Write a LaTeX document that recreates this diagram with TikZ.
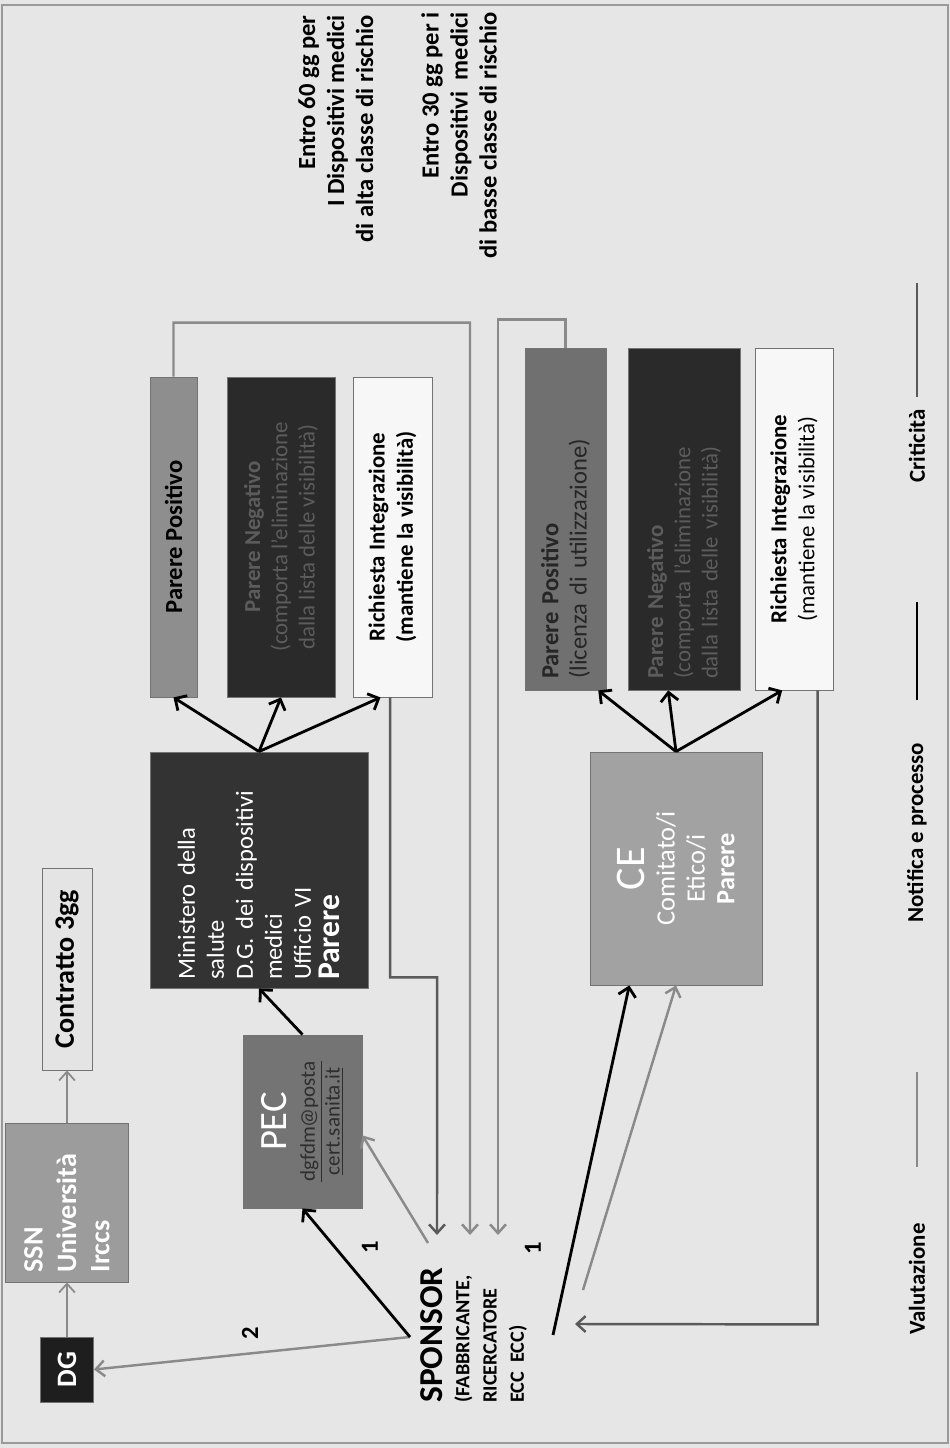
\documentclass[tikz,border=0pt]{standalone}
\usepackage{fontspec}
\setmainfont{Carlito}
\usetikzlibrary{arrows.meta,calc}
\newcommand{\pxu}{0.02cm}
\definecolor{SheetBg}{HTML}{E6E6E6}
\definecolor{FrameLine}{HTML}{9A9A9A}
\definecolor{DgFill}{HTML}{1E1E1E}
\definecolor{SsnFill}{HTML}{9C9C9C}
\definecolor{ContrFill}{HTML}{E4E4E4}
\definecolor{PecFill}{HTML}{747474}
\definecolor{PecMail}{HTML}{2E2E2E}
\definecolor{MinFill}{HTML}{333333}
\definecolor{PposFill}{HTML}{8E8E8E}
\definecolor{PnegFill}{HTML}{2A2A2A}
\definecolor{PnegText}{HTML}{5C5C5C}
\definecolor{RichFill}{HTML}{F7F7F7}
\definecolor{CeFill}{HTML}{A2A2A2}
\definecolor{PposbFill}{HTML}{707070}
\definecolor{ValutLine}{HTML}{8A8A8A}
\definecolor{CritLine}{HTML}{5A5A5A}

\begin{document}
\begin{tikzpicture}[x=\pxu,y=\pxu]
  \tikzset{box/.style={rectangle,draw=black!55,line width=.5pt,inner sep=3pt,align=center},
    notif/.style={draw=black,line width=1.6pt,-{Straight Barb[length=5pt,width=10pt]}},
    valut/.style={draw=ValutLine,line width=1.4pt,-{Straight Barb[length=5pt,width=9pt]}},
    crit/.style={draw=CritLine,line width=1.4pt,-{Straight Barb[length=5pt,width=9pt]}},
    lbl/.style={inner sep=0pt,font=\bfseries\fontsize{14}{16}\selectfont}}
  \useasboundingbox (0,0) rectangle (950,1448);
  \fill[SheetBg] (0,0) rectangle (950,1448);
  \draw[FrameLine,line width=.8pt] (2,5) rectangle (948,1443);
  \begin{scope}[rotate=90,transform shape]
    \node[box,fill=DgFill,text=white,minimum width=65*\pxu,minimum height=53*\pxu,
      font=\bfseries\fontsize{16}{18}\selectfont] (dg) at (78.5,-67) {DG};
    \node[box,fill=SsnFill,text=white,align=left,text width=140*\pxu,minimum width=159*\pxu,
      minimum height=123*\pxu,font=\bfseries\fontsize{16}{19}\selectfont] (ssn) at (245.5,-67)
      {SSN\\Università\\Irccs};
    \node[box,fill=ContrFill,minimum width=202*\pxu,minimum height=50*\pxu,
      font=\bfseries\fontsize{16}{18}\selectfont] (contratto) at (479,-67) {Contratto 3gg};
    \node[box,fill=PecFill,minimum width=173*\pxu,minimum height=119*\pxu,
      font=\fontsize{12}{14}\selectfont] (pec) at (326.5,-302.5)
      {{\color{white}\fontsize{22}{24}\selectfont PEC}\\[2pt]
       {\color{PecMail}\underline{dgfdm@posta}}\\
       {\color{PecMail}\underline{cert.sanita.it}}};
    \node[box,fill=MinFill,text=white,align=left,text width=220*\pxu,minimum width=236*\pxu,
      minimum height=218*\pxu,font=\fontsize{14}{16.5}\selectfont] (min) at (578,-259)
      {Ministero della\\salute\\D.G. dei dispositivi\\medici\\Ufficio VI\\{\bfseries\fontsize{18}{20}\selectfont Parere}};
    \node[box,fill=PposFill,minimum width=320*\pxu,minimum height=47*\pxu,
      font=\bfseries\fontsize{14}{16}\selectfont] (ppos) at (911,-173.5) {Parere Positivo};
    \node[box,fill=PnegFill,text=PnegText,minimum width=320*\pxu,minimum height=108*\pxu,
      font=\fontsize{13}{15.5}\selectfont] (pneg) at (911,-281)
      {{\bfseries Parere Negativo}\\(comporta l'eliminazione\\dalla lista delle visibilità)};
    \node[box,fill=RichFill,minimum width=320*\pxu,minimum height=79*\pxu,
      font=\bfseries\fontsize{13}{16}\selectfont] (rich) at (911,-392.5)
      {Richiesta Integrazione\\(mantiene la visibilità)};
    \node[box,fill=CeFill,text=white,minimum width=233*\pxu,minimum height=172*\pxu,
      font=\fontsize{15}{17}\selectfont] (ce) at (579.5,-676)
      {{\fontsize{24}{26}\selectfont CE}\\Comitato/i\\Etico/i\\{\bfseries Parere}};
    \node[box,fill=PposbFill,text=black!85,align=left,text width=320*\pxu,minimum width=342*\pxu,
      minimum height=81*\pxu,font=\fontsize{14}{16}\selectfont] (pposb) at (929,-565.5)
      {{\bfseries Parere Positivo}\\(licenza di utilizzazione)};
    \node[box,fill=PnegFill,text=PnegText,align=left,text width=320*\pxu,minimum width=342*\pxu,
      minimum height=112*\pxu,font=\fontsize{13}{15.5}\selectfont] (pnegb) at (929,-684)
      {{\bfseries Parere Negativo}\\(comporta l'eliminazione\\dalla lista delle visibilità)};
    \node[box,fill=RichFill,minimum width=342*\pxu,minimum height=78*\pxu,
      font=\fontsize{13}{16}\selectfont] (richb) at (929,-794)
      {{\bfseries Richiesta Integrazione}\\(mantiene la visibilità)};
    \node[anchor=north west,align=left,inner sep=0pt,
      font=\bfseries\fontsize{11.5}{15.5}\selectfont] (sponsor) at (45,-420)
      {{\fontsize{19}{20}\selectfont SPONSOR}\\(FABBRICANTE,\\RICERCATORE\\ECC\ \ ECC)};
    \node[anchor=north east,align=right,inner sep=0pt,
      font=\bfseries\fontsize{14}{16.5}\selectfont] (entro60) at (1433,-298)
      {Entro 60 gg per\\I Dispositivi medici\\di alta classe di rischio};
    \node[anchor=north east,align=right,inner sep=0pt,
      font=\bfseries\fontsize{14}{16.5}\selectfont] (entro30) at (1436,-421)
      {Entro 30 gg per i\\Dispositivi\ \ medici\\di basse classe di rischio};
    \node[lbl] (uno) at (201,-370) {1};
    \node[lbl] (unob) at (200,-533) {1};
    \node[lbl] (due) at (115,-250) {2};
    \coordinate (sp) at (111,-410);
    \coordinate (spA) at (213,-437);
    \coordinate (spB) at (213,-470);
    \coordinate (spC) at (213,-498);
    \coordinate (spD) at (124,-575);
    \coordinate (spE) at (113,-553);
    \coordinate (spF) at (158,-583);
    \coordinate (spG) at (205,-428);
    \draw[valut,line width=1pt] (dg.east) -- (ssn.west);
    \draw[valut,line width=1pt] (ssn.east) -- (contratto.west);
    \draw[valut] (sp) -- (dg.south);
    \draw[notif] (sp) -- (pec.west);
    \draw[valut] (spG) -- ($(pec.south west)!0.42!(pec.south east)$);
    \draw[notif] (pec.east) -- (min.west);
    \draw[notif] (min.east) -- (ppos.west);
    \draw[notif] (min.east) -- (pneg.west);
    \draw[notif] (min.east) -- ($(rich.north west)!0.35!(rich.south west)$);
    \draw[crit] ($(rich.north west)!0.47!(rich.south west)$) -- ++(-280,0) -- ++(0,-47) -- (spA);
    \draw[valut] (ppos.east) -- ++(54,0) -- ++(0,-296.5) -- (spB);
    \draw[valut] (pposb.east) -- ++(28,0) -- ++(0,67.5) -- (spC);
    \draw[notif] (spE) -- ($(ce.north west)!0.23!(ce.south west)$);
    \draw[valut] (spF) -- (ce.west);
    \draw[notif] (ce.east) -- ($(pposb.north west)!0.9!(pposb.south west)$);
    \draw[notif] (ce.east) -- ($(pnegb.north west)!0.36!(pnegb.south west)$);
    \draw[notif] (ce.east) -- ($(richb.north west)!0.35!(richb.south west)$);
    \draw[crit] ($(richb.north west)!0.8!(richb.south west)$) -- ++(-634,0) -- (spD);
    \node[anchor=west,inner sep=0pt,font=\bfseries\fontsize{13}{15}\selectfont] (lval) at (113,-917) {Valutazione};
    \node[anchor=west,inner sep=0pt,font=\bfseries\fontsize{13}{15}\selectfont] (lnot) at (525,-917) {Notifica e processo};
    \node[anchor=west,inner sep=0pt,font=\bfseries\fontsize{13}{15}\selectfont] (lcri) at (965,-917) {Criticità};
    \draw[ValutLine,line width=1.4pt] (281,-917) -- (376,-917);
    \draw[black,line width=1.4pt] (748,-917) -- (846,-917);
    \draw[CritLine,line width=1.4pt] (1051,-917) -- (1165,-917);
  \end{scope}
\end{tikzpicture}
\end{document}
